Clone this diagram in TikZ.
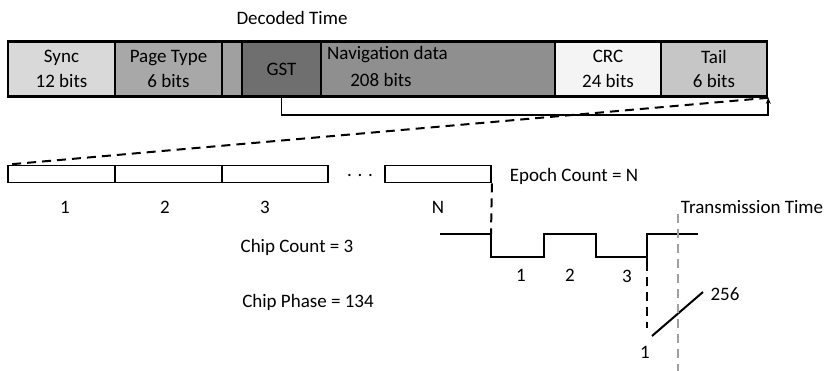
\documentclass[tikz,border=0pt]{standalone}
\usepackage{fontspec}
\setmainfont{Carlito}
\usetikzlibrary{arrows.meta}
\definecolor{csync}{HTML}{D9D9D9}
\definecolor{cptype}{HTML}{A8A8A8}
\definecolor{csmall}{HTML}{A0A0A0}
\definecolor{cgst}{HTML}{6F6F6F}
\definecolor{cnav}{HTML}{8F8F8F}
\definecolor{ccrc}{HTML}{F4F4F4}
\definecolor{ctail}{HTML}{C6C6C6}
\definecolor{cgrayline}{HTML}{A0A0A0}
\tikzset{
  seg/.style={draw, line width=2.6pt, minimum height=55pt, inner sep=0pt, align=center},
  epochbox/.style={draw, line width=1.8pt, minimum height=17pt, inner sep=0pt},
  lbl/.style={inner sep=0pt, font=\fontsize{19}{24.5}\selectfont},
  dashline/.style={line width=2pt, dash pattern=on 9pt off 6pt},
  wave/.style={line width=2pt},
}
\begin{document}
\begin{tikzpicture}[x=1pt,y=-1pt, font=\fontsize{19}{24.5}\selectfont]
\useasboundingbox (0,0) rectangle (825,371);
% top bar
\node[seg, fill=csync, minimum width=107pt] (sync) at (61.5,69) {Sync\\12 bits};
\node[seg, fill=cptype, minimum width=107pt] (ptype) at (168.5,69) {Page Type\\6 bits};
\node[seg, fill=csmall, minimum width=20pt] (small) at (232,69) {};
\node[seg, fill=cgst, minimum width=79pt] (gst) at (281.5,69) {GST};
\node[seg, fill=cnav, minimum width=234pt] (nav) at (438,69) {};
\node[seg, fill=ccrc, minimum width=106pt] (crc) at (608,69) {CRC\\24 bits};
\node[seg, fill=ctail, minimum width=106pt] (tail) at (714,69) {Tail\\6 bits};
\node[lbl, anchor=west] (navt) at (327,55) {Navigation data};
\node[lbl] (navb) at (381,80) {208 bits};
\node[lbl] (dec) at (292,18) {Decoded Time};
% bracket
\draw[line width=1.8pt, -{Stealth[length=6pt,width=5pt]}] (gst.south) -- ++(0,17) -| (tail.south east);
% epoch boxes
\node[epochbox, minimum width=107pt] (e1) at (61.5,174) {};
\node[epochbox, minimum width=107pt] (e2) at (168.5,174) {};
\node[epochbox, minimum width=106pt] (e3) at (275,174) {};
\node[epochbox, minimum width=106pt] (eN) at (438,174) {};
\node[lbl] (dots) at (360,176) {. . .};
\draw[dashline] (tail.south east) -- (e1.north west);
\node[lbl] (l1) at (65,207) {1};
\node[lbl] (l2) at (165,207) {2};
\node[lbl] (l3) at (265,207) {3};
\node[lbl] (lN) at (438,207) {N};
\node[lbl] (epc) at (574,176) {Epoch Count = N};
% wave
\coordinate (w0) at (440,234);
\coordinate (w1) at (491,234);
\coordinate (w2) at (491,257);
\coordinate (w3) at (544,257);
\coordinate (w4) at (544,234);
\coordinate (w5) at (596,234);
\coordinate (w6) at (596,257);
\coordinate (w7) at (647,257);
\coordinate (w8) at (647,234);
\coordinate (w9) at (698,234);
\coordinate (w7b) at (647,262);
\draw[dashline] (eN.south east) -- (w1);
\draw[wave] (w0) -- (w1) -- (w2) -- (w3) -- (w4) -- (w5) -- (w6) -- (w7) -- (w8) -- (w9);
\draw[wave] (w7) -- (w7b);
\node[lbl] (c1) at (521,275) {1};
\node[lbl] (c2) at (570,275) {2};
\node[lbl] (c3) at (627,276) {3};
\coordinate (d1) at (647,328);
\draw[dashline] (w7b) -- (d1);
% phase ramp
\coordinate (r0) at (652,336);
\coordinate (r1) at (703,292);
\draw[wave] (r0) -- (r1);
\node[lbl] (p256) at (725,294) {256};
\node[lbl] (p1) at (645,352) {1};
% transmission time
\coordinate (t0) at (678,214);
\coordinate (t1) at (678,371);
\draw[line width=2pt, cgrayline, dash pattern=on 9pt off 6pt] (t0) -- (t1);
\node[lbl] (tt) at (752,207) {Transmission Time};
\node[lbl] (cc) at (297,247) {Chip Count = 3};
\node[lbl] (cp) at (308,302) {Chip Phase = 134};
\end{tikzpicture}
\end{document}
